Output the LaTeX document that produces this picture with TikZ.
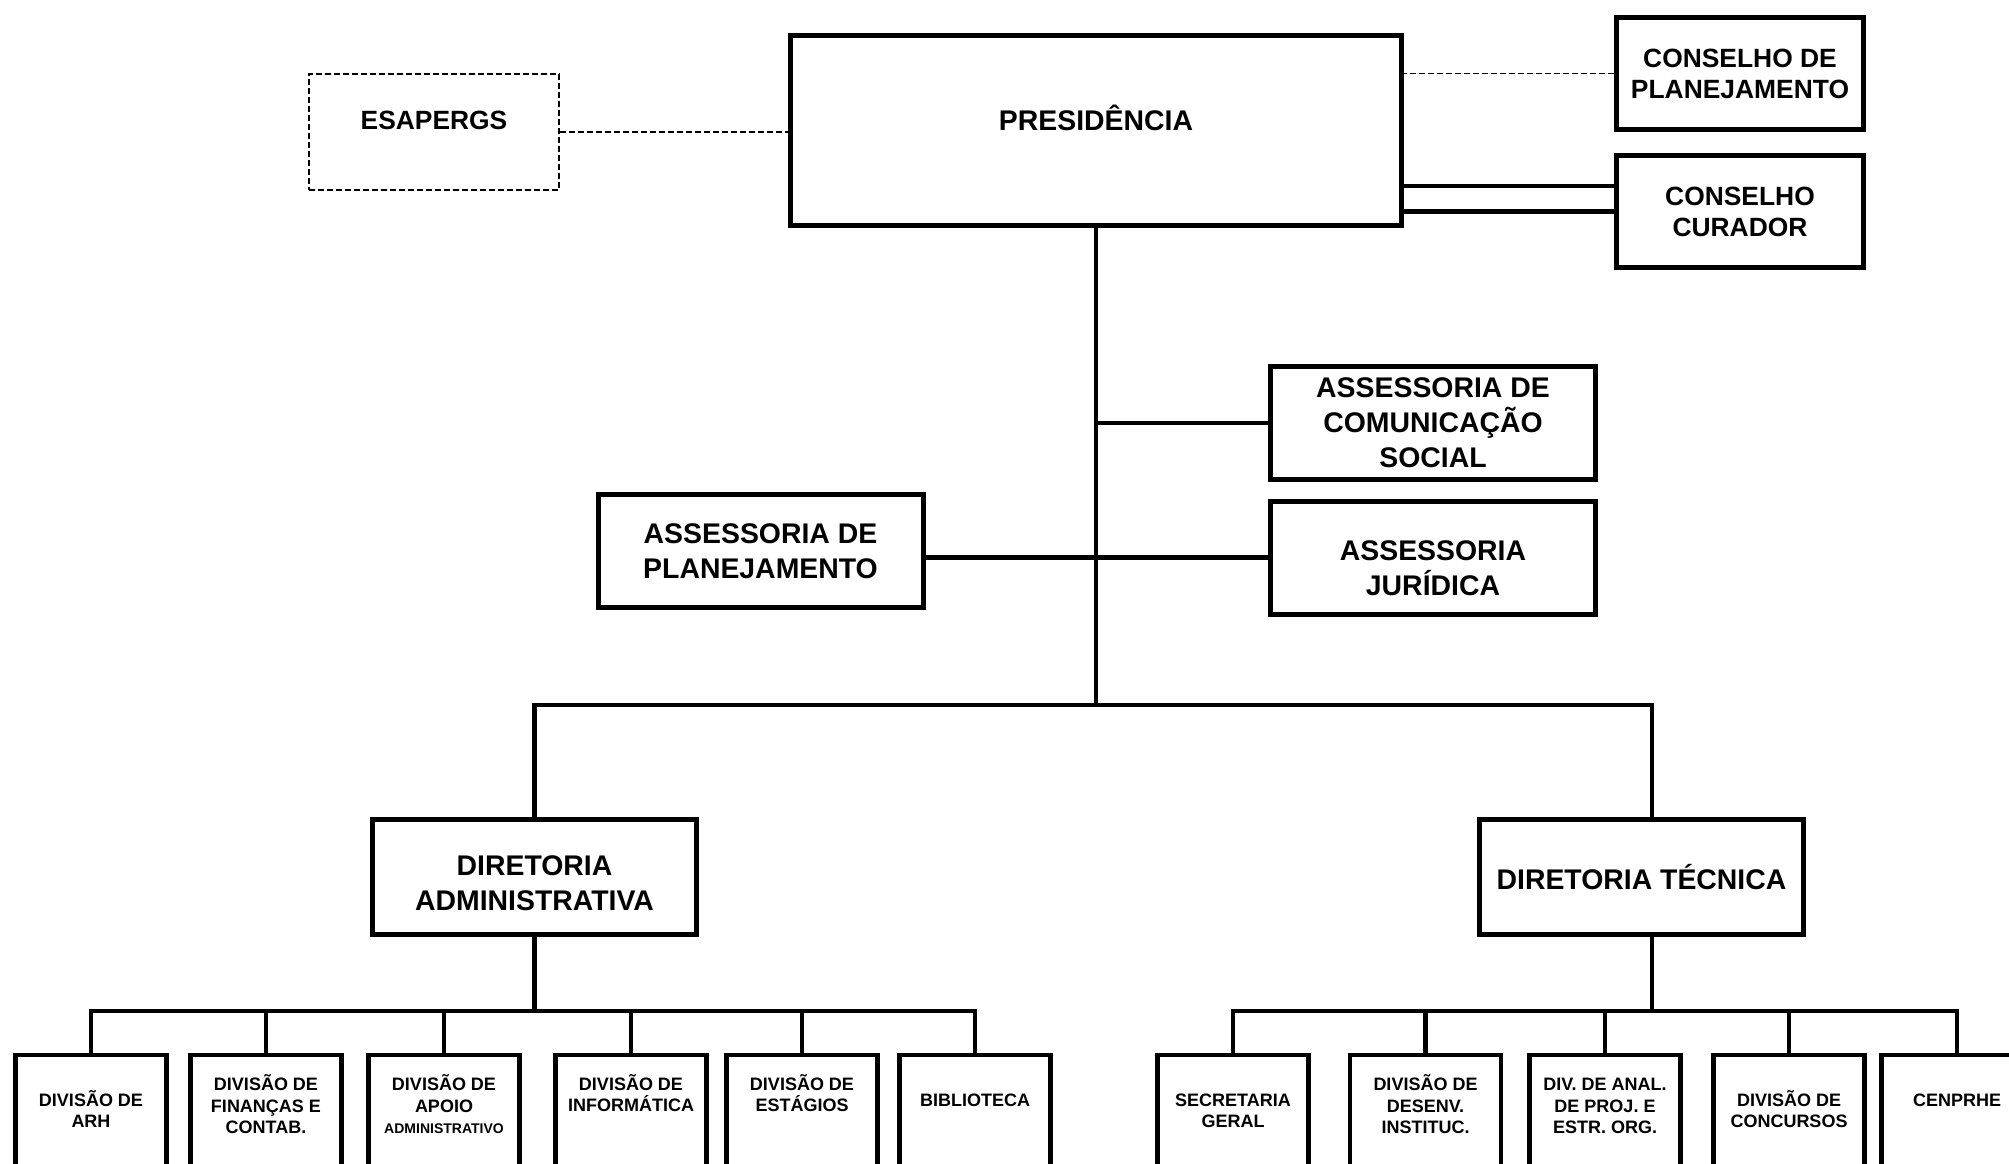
\documentclass[tikz,border=0pt]{standalone}
\usepackage{fontspec}
\setmainfont{Liberation Sans}
\usetikzlibrary{calc}

\begin{document}
\begin{tikzpicture}[x=0.5pt, y=-0.5pt, line join=miter,
    box/.style={draw, line width=2.5pt, inner sep=0pt, align=center,
      font=\bfseries\fontsize{14.2pt}{17.5pt}\selectfont,
      minimum width=162.5pt, minimum height=56.5pt},
    council/.style={box, font=\bfseries\fontsize{13.2pt}{15.5pt}\selectfont,
      minimum width=123.5pt, minimum height=56pt},
    dashbox/.style={council, line width=1pt, dash pattern=on 3pt off 1.5pt,
      minimum width=125pt, minimum height=58pt},
    divbox/.style={draw, line width=2.25pt, inner sep=0pt, anchor=north, align=center,
      font=\bfseries\fontsize{9pt}{10.75pt}\selectfont,
      minimum width=75.5pt, text height=#1, text depth=80pt},
    divbox/.default=28.5pt,
    conn/.style={line width=2.25pt},
    dashconn/.style={line width=0.75pt, dash pattern=on 3pt off 1.5pt}]
  \useasboundingbox (0,0) rectangle (2009,1163);
  \clip (0,0) rectangle (2009,1163);
  % --- top level ---
  \node[box, minimum width=305.5pt, minimum height=95pt, text depth=11.8pt] (pres) at (1096,130) {PRESIDÊNCIA};
  \node[dashbox, text depth=12pt] (esap) at (434,132) {ESAPERGS};
  \node[council] (consplan) at (1740,73.5) {CONSELHO DE\\PLANEJAMENTO};
  \node[council] (curador) at (1740,211.5) {CONSELHO\\CURADOR};
  % --- advisory units ---
  \node[box] (ascom) at (1433,423) {ASSESSORIA DE\\COMUNICAÇÃO\\SOCIAL};
  \node[box, text height=38pt, text depth=0pt] (asjur) at (1433,557.5) {ASSESSORIA\\JURÍDICA};
  \node[box] (asplan) at (760.5,551) {ASSESSORIA DE\\PLANEJAMENTO};
  % --- directorates ---
  \node[box, minimum width=162pt, minimum height=57.5pt, text height=33pt, text depth=0pt] (diradm) at (534.5,877) {DIRETORIA\\ADMINISTRATIVA};
  \node[box, minimum width=162pt, minimum height=57.5pt] (dirtec) at (1641.5,877) {DIRETORIA TÉCNICA};
  % --- divisions (cut by the page edge) ---
  \node[divbox=36.5pt] (arh) at (91,1052.5) {DIVISÃO DE\\ARH};
  \node[divbox=39.5pt] (financas) at (266,1052.5) {DIVISÃO DE\\FINANÇAS E\\CONTAB.};
  \node[divbox=39.5pt] (apoio) at (444,1052.5) {DIVISÃO DE\\APOIO\\{\fontsize{7pt}{10.75pt}\selectfont ADMINISTRATIVO}};
  \node[divbox] (informatica) at (631,1052.5) {DIVISÃO DE\\INFORMÁTICA};
  \node[divbox] (estagios) at (802,1052.5) {DIVISÃO DE\\ESTÁGIOS};
  \node[divbox=25.75pt] (biblioteca) at (975,1052.5) {BIBLIOTECA};
  \node[divbox=36.5pt] (secretaria) at (1233,1052.5) {SECRETARIA\\GERAL};
  \node[divbox=39.5pt] (desenv) at (1425.5,1052.5) {DIVISÃO DE\\DESENV.\\INSTITUC.};
  \node[divbox=39.5pt] (analise) at (1605,1052.5) {DIV. DE ANAL.\\DE PROJ. E\\ESTR. ORG.};
  \node[divbox=36.5pt] (concursos) at (1789,1052.5) {DIVISÃO DE\\CONCURSOS};
  \node[divbox=25.75pt] (cenprhe) at (1957,1052.5) {CENPRHE};
  % --- links at the top ---
  \coordinate (curtop) at ($(curador.west)+(0,-25.5)$);
  \draw[dashconn] (esap.east) -- (esap.east -| pres.west);
  \draw[dashconn] (consplan.west) -- (consplan.west -| pres.east);
  \draw[conn] (curador.west) -- (curador.west -| pres.east);
  \draw[conn] (curtop) -- (curtop -| pres.east);
  % --- trunk ---
  \coordinate (hub) at (1096,705);
  \draw[conn] (pres.south) -- (hub);
  \draw[conn] (ascom.west) -- (ascom.west -| hub);
  \draw[conn] (asjur.west) -- (asjur.west -| asplan.east);
  \draw[conn] (diradm.north) |- (hub) -| ([xshift=5.25pt]dirtec.north);
  % --- buses to divisions ---
  \coordinate (busL) at (534.5,1011);
  \coordinate (busR) at (1652,1011);
  \draw[conn] (diradm.south) -- (busL);
  \draw[conn] ([xshift=5.25pt]dirtec.south) -- (busR);
  \foreach \n in {arh,financas,apoio,informatica,estagios,biblioteca}
    \draw[conn] (busL) -| (\n.north);
  \foreach \n in {secretaria,desenv,analise,concursos,cenprhe}
    \draw[conn] (busR) -| (\n.north);
\end{tikzpicture}
\end{document}
